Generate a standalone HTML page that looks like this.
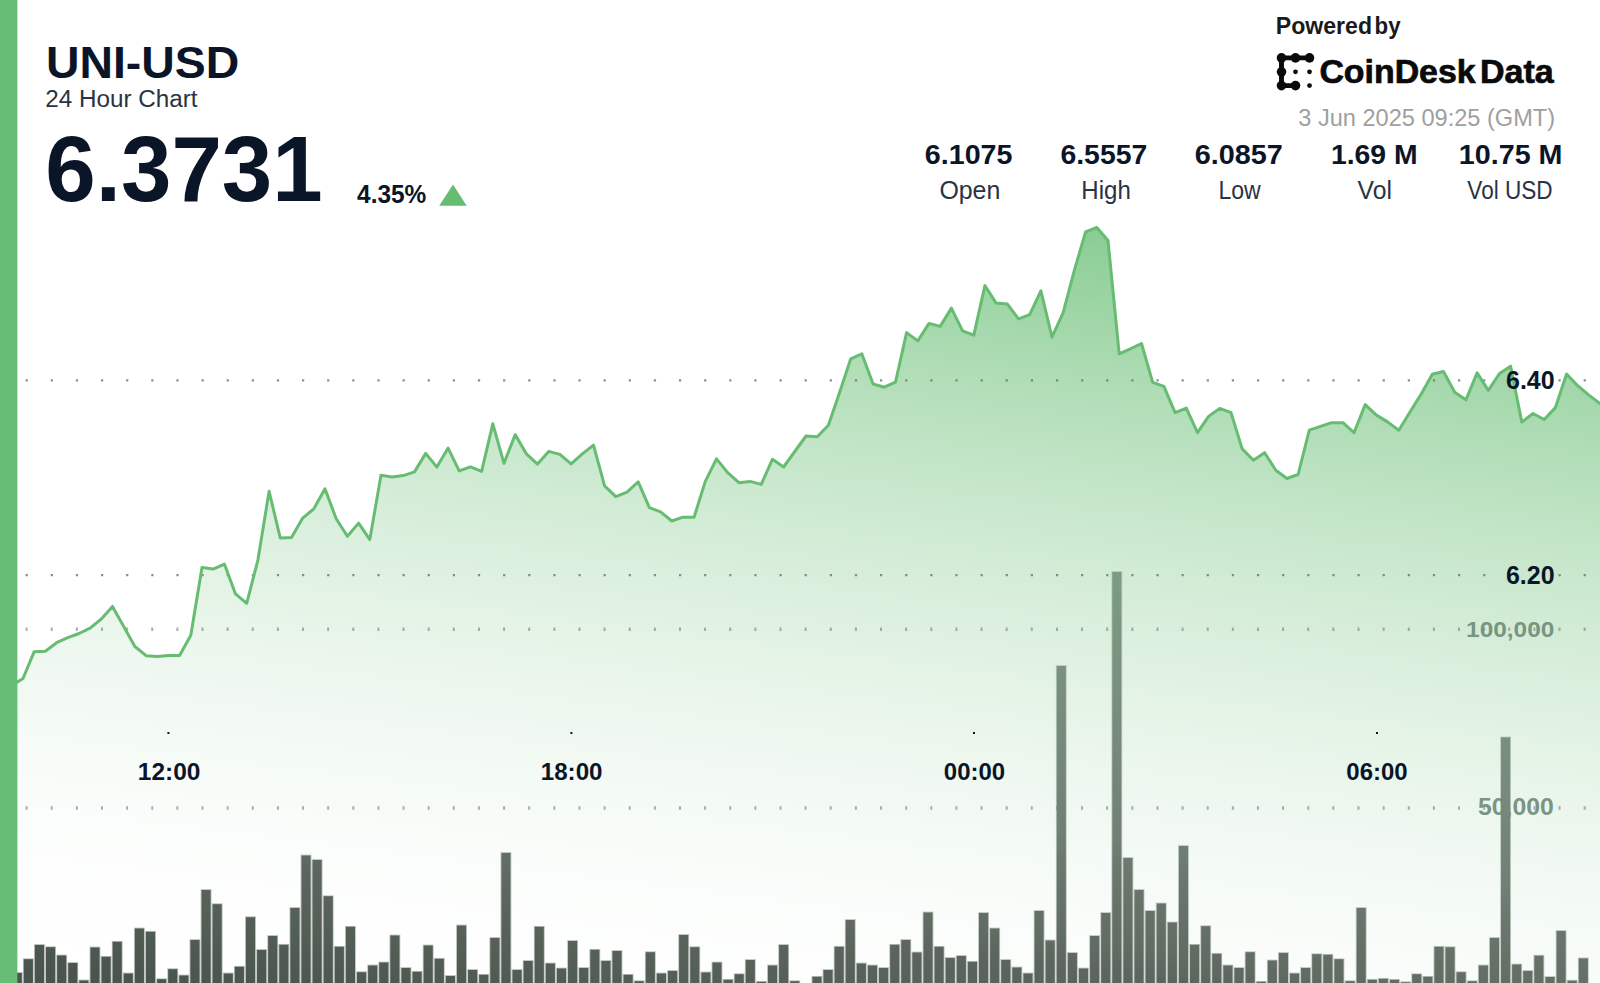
<!DOCTYPE html>
<html><head><meta charset="utf-8"><title>UNI-USD 24 Hour Chart</title>
<style>
html,body{margin:0;padding:0;background:#fff;}
body{width:1600px;height:983px;overflow:hidden;font-family:"Liberation Sans",sans-serif;}
svg{display:block;position:absolute;left:0;top:0;}
text{font-family:"Liberation Sans",sans-serif;}
.b{font-weight:bold;}
</style></head><body>
<svg width="1600" height="983" viewBox="0 0 1600 983">
<defs>
<linearGradient id="ag" gradientUnits="userSpaceOnUse" x1="1600" y1="228" x2="1482.2" y2="1170.3">
<stop offset="0.0000" stop-color="#66bd72" stop-opacity="0.8809"/>
<stop offset="0.0455" stop-color="#66bd72" stop-opacity="0.8027"/>
<stop offset="0.0909" stop-color="#66bd72" stop-opacity="0.7281"/>
<stop offset="0.1364" stop-color="#66bd72" stop-opacity="0.6572"/>
<stop offset="0.1818" stop-color="#66bd72" stop-opacity="0.5899"/>
<stop offset="0.2273" stop-color="#66bd72" stop-opacity="0.5262"/>
<stop offset="0.2727" stop-color="#66bd72" stop-opacity="0.4662"/>
<stop offset="0.3182" stop-color="#66bd72" stop-opacity="0.4098"/>
<stop offset="0.3636" stop-color="#66bd72" stop-opacity="0.3570"/>
<stop offset="0.4091" stop-color="#66bd72" stop-opacity="0.3079"/>
<stop offset="0.4545" stop-color="#66bd72" stop-opacity="0.2624"/>
<stop offset="0.5000" stop-color="#66bd72" stop-opacity="0.2206"/>
<stop offset="0.5455" stop-color="#66bd72" stop-opacity="0.1823"/>
<stop offset="0.5909" stop-color="#66bd72" stop-opacity="0.1477"/>
<stop offset="0.6364" stop-color="#66bd72" stop-opacity="0.1168"/>
<stop offset="0.6818" stop-color="#66bd72" stop-opacity="0.0895"/>
<stop offset="0.7273" stop-color="#66bd72" stop-opacity="0.0658"/>
<stop offset="0.7727" stop-color="#66bd72" stop-opacity="0.0457"/>
<stop offset="0.8182" stop-color="#66bd72" stop-opacity="0.0293"/>
<stop offset="0.8636" stop-color="#66bd72" stop-opacity="0.0165"/>
<stop offset="0.9091" stop-color="#66bd72" stop-opacity="0.0074"/>
<stop offset="0.9545" stop-color="#66bd72" stop-opacity="0.0019"/>
<stop offset="1.0000" stop-color="#66bd72" stop-opacity="0.0000"/>
</linearGradient>
<linearGradient id="bg" gradientUnits="userSpaceOnUse" x1="1600" y1="228" x2="1482.2" y2="1170.3">
<stop offset="0.2842" stop-color="#7ea586"/>
<stop offset="0.4305" stop-color="#7c9b82"/>
<stop offset="0.5768" stop-color="#788c7d"/>
<stop offset="0.7022" stop-color="#708074"/>
<stop offset="0.7315" stop-color="#6b786d"/>
<stop offset="0.8130" stop-color="#616c63"/>
<stop offset="0.8401" stop-color="#5c665e"/>
<stop offset="0.9634" stop-color="#4b574e"/>
<stop offset="1.0000" stop-color="#48544b"/>
</linearGradient>
<clipPath id="cp"><rect x="17" y="0" width="1583" height="983"/></clipPath>
</defs>
<rect x="0" y="0" width="1600" height="983" fill="#fff"/>
<g clip-path="url(#cp)">
<path d="M11.8,685.3 L23.0,678.5 L34.2,651.7 L45.4,651.2 L56.6,642.7 L67.8,637.7 L79.0,633.5 L90.1,628.2 L101.3,619.0 L112.5,606.4 L123.7,626.5 L134.9,646.5 L146.1,655.7 L157.2,656.5 L168.4,655.5 L179.6,655.5 L190.8,635.2 L202.0,567.6 L213.2,569.1 L224.4,564.1 L235.5,593.9 L246.7,603.4 L257.9,560.1 L269.1,491.3 L280.3,538.1 L291.5,537.6 L302.7,518.1 L313.8,508.8 L325.0,488.8 L336.2,518.8 L347.4,536.3 L358.6,523.1 L369.8,539.6 L381.0,475.3 L392.1,477.0 L403.3,475.6 L414.5,471.9 L425.7,453.4 L436.9,467.1 L448.1,448.1 L459.2,470.9 L470.4,466.9 L481.6,471.4 L492.8,423.8 L504.0,463.4 L515.2,434.6 L526.4,453.9 L537.5,464.1 L548.7,451.4 L559.9,454.4 L571.1,463.9 L582.3,453.9 L593.5,445.1 L604.6,485.9 L615.8,496.7 L627.0,492.2 L638.2,481.9 L649.4,507.7 L660.6,511.9 L671.8,521.0 L682.9,517.2 L694.1,517.2 L705.3,481.4 L716.5,458.9 L727.7,472.6 L738.9,482.7 L750.1,481.4 L761.2,484.4 L772.4,459.3 L783.6,467.0 L794.8,451.5 L806.0,436.0 L817.2,436.8 L828.4,425.3 L839.5,392.7 L850.7,358.9 L861.9,353.9 L873.1,384.0 L884.3,387.2 L895.5,382.2 L906.6,332.6 L917.8,340.9 L929.0,323.4 L940.2,326.4 L951.4,308.1 L962.6,330.9 L973.8,335.1 L984.9,285.6 L996.1,303.1 L1007.3,303.9 L1018.5,318.9 L1029.7,314.6 L1040.9,290.8 L1052.0,337.1 L1063.2,312.6 L1074.4,270.1 L1085.6,231.8 L1096.8,227.5 L1108.0,240.5 L1119.2,353.9 L1130.3,348.9 L1141.5,343.5 L1152.7,382.4 L1163.9,386.4 L1175.1,412.6 L1186.3,408.1 L1197.5,432.7 L1208.6,416.4 L1219.8,408.4 L1231.0,412.6 L1242.2,448.9 L1253.4,460.2 L1264.6,452.7 L1275.8,470.2 L1286.9,478.5 L1298.1,474.5 L1309.3,430.2 L1320.5,426.4 L1331.7,422.7 L1342.9,422.7 L1354.0,432.7 L1365.2,404.6 L1376.4,415.1 L1387.6,421.9 L1398.8,430.2 L1410.0,412.0 L1421.2,394.0 L1432.3,374.2 L1443.5,371.5 L1454.7,392.3 L1465.9,399.8 L1477.1,372.9 L1488.3,390.4 L1499.5,373.5 L1510.6,366.2 L1521.8,422.1 L1533.0,413.5 L1544.2,419.5 L1555.4,407.6 L1566.6,374.1 L1577.7,385.7 L1588.9,395.1 L1600.1,403.6 L1600.1,983 L11.8,983 Z" fill="url(#ag)"/>
<g stroke="#6f6f73" stroke-opacity="0.8" stroke-width="2.2" stroke-dasharray="2.2 22.93" fill="none">
<line x1="25.6" x2="1600" y1="380.4" y2="380.4"/>
<line x1="25.6" x2="1600" y1="575.2" y2="575.2"/>
</g>
<g stroke="#8d918e" stroke-opacity="0.75" stroke-width="3.6" stroke-dasharray="2 23.13" fill="none">
<line x1="25.6" x2="1600" y1="629.3" y2="629.3"/>
<line x1="25.6" x2="1600" y1="808" y2="808"/>
</g>
<path d="M11.8,685.3 L23.0,678.5 L34.2,651.7 L45.4,651.2 L56.6,642.7 L67.8,637.7 L79.0,633.5 L90.1,628.2 L101.3,619.0 L112.5,606.4 L123.7,626.5 L134.9,646.5 L146.1,655.7 L157.2,656.5 L168.4,655.5 L179.6,655.5 L190.8,635.2 L202.0,567.6 L213.2,569.1 L224.4,564.1 L235.5,593.9 L246.7,603.4 L257.9,560.1 L269.1,491.3 L280.3,538.1 L291.5,537.6 L302.7,518.1 L313.8,508.8 L325.0,488.8 L336.2,518.8 L347.4,536.3 L358.6,523.1 L369.8,539.6 L381.0,475.3 L392.1,477.0 L403.3,475.6 L414.5,471.9 L425.7,453.4 L436.9,467.1 L448.1,448.1 L459.2,470.9 L470.4,466.9 L481.6,471.4 L492.8,423.8 L504.0,463.4 L515.2,434.6 L526.4,453.9 L537.5,464.1 L548.7,451.4 L559.9,454.4 L571.1,463.9 L582.3,453.9 L593.5,445.1 L604.6,485.9 L615.8,496.7 L627.0,492.2 L638.2,481.9 L649.4,507.7 L660.6,511.9 L671.8,521.0 L682.9,517.2 L694.1,517.2 L705.3,481.4 L716.5,458.9 L727.7,472.6 L738.9,482.7 L750.1,481.4 L761.2,484.4 L772.4,459.3 L783.6,467.0 L794.8,451.5 L806.0,436.0 L817.2,436.8 L828.4,425.3 L839.5,392.7 L850.7,358.9 L861.9,353.9 L873.1,384.0 L884.3,387.2 L895.5,382.2 L906.6,332.6 L917.8,340.9 L929.0,323.4 L940.2,326.4 L951.4,308.1 L962.6,330.9 L973.8,335.1 L984.9,285.6 L996.1,303.1 L1007.3,303.9 L1018.5,318.9 L1029.7,314.6 L1040.9,290.8 L1052.0,337.1 L1063.2,312.6 L1074.4,270.1 L1085.6,231.8 L1096.8,227.5 L1108.0,240.5 L1119.2,353.9 L1130.3,348.9 L1141.5,343.5 L1152.7,382.4 L1163.9,386.4 L1175.1,412.6 L1186.3,408.1 L1197.5,432.7 L1208.6,416.4 L1219.8,408.4 L1231.0,412.6 L1242.2,448.9 L1253.4,460.2 L1264.6,452.7 L1275.8,470.2 L1286.9,478.5 L1298.1,474.5 L1309.3,430.2 L1320.5,426.4 L1331.7,422.7 L1342.9,422.7 L1354.0,432.7 L1365.2,404.6 L1376.4,415.1 L1387.6,421.9 L1398.8,430.2 L1410.0,412.0 L1421.2,394.0 L1432.3,374.2 L1443.5,371.5 L1454.7,392.3 L1465.9,399.8 L1477.1,372.9 L1488.3,390.4 L1499.5,373.5 L1510.6,366.2 L1521.8,422.1 L1533.0,413.5 L1544.2,419.5 L1555.4,407.6 L1566.6,374.1 L1577.7,385.7 L1588.9,395.1 L1600.1,403.6" fill="none" stroke="#66bd72" stroke-width="3" stroke-linejoin="round" stroke-linecap="round"/>
<text x="1466.12" y="636.82" font-size="22.74" font-weight="bold" fill="#6c8976" textLength="88.18" lengthAdjust="spacingAndGlyphs" fill-opacity="0.9">100,000</text>
<text x="1477.91" y="815.08" font-size="23.81" font-weight="bold" fill="#6c8674" textLength="75.87" lengthAdjust="spacingAndGlyphs" fill-opacity="0.9">50,000</text>
<g fill="url(#bg)" stroke="url(#bg)" stroke-opacity="0.4" stroke-width="1.7">
<rect x="12.69" y="973.0" width="9.1" height="12.0"/>
<rect x="23.80" y="959.2" width="9.1" height="25.8"/>
<rect x="34.91" y="945.0" width="9.1" height="40.0"/>
<rect x="46.01" y="947.2" width="9.1" height="37.8"/>
<rect x="57.12" y="955.5" width="9.1" height="29.5"/>
<rect x="68.23" y="963.0" width="9.1" height="22.0"/>
<rect x="79.33" y="980.5" width="9.1" height="4.5"/>
<rect x="90.44" y="947.5" width="9.1" height="37.5"/>
<rect x="101.55" y="956.8" width="9.1" height="28.2"/>
<rect x="112.66" y="941.8" width="9.1" height="43.2"/>
<rect x="123.76" y="973.5" width="9.1" height="11.5"/>
<rect x="134.87" y="928.5" width="9.1" height="56.5"/>
<rect x="145.98" y="931.8" width="9.1" height="53.2"/>
<rect x="157.08" y="979.2" width="9.1" height="5.8"/>
<rect x="168.19" y="969.2" width="9.1" height="15.8"/>
<rect x="179.30" y="975.5" width="9.1" height="9.5"/>
<rect x="190.41" y="940.0" width="9.1" height="45.0"/>
<rect x="201.51" y="890.0" width="9.1" height="95.0"/>
<rect x="212.62" y="904.2" width="9.1" height="80.8"/>
<rect x="223.73" y="973.5" width="9.1" height="11.5"/>
<rect x="234.83" y="966.8" width="9.1" height="18.2"/>
<rect x="245.94" y="917.2" width="9.1" height="67.8"/>
<rect x="257.05" y="950.0" width="9.1" height="35.0"/>
<rect x="268.15" y="936.0" width="9.1" height="49.0"/>
<rect x="279.26" y="944.8" width="9.1" height="40.2"/>
<rect x="290.37" y="908.0" width="9.1" height="77.0"/>
<rect x="301.47" y="855.5" width="9.1" height="129.5"/>
<rect x="312.58" y="860.0" width="9.1" height="125.0"/>
<rect x="323.69" y="896.2" width="9.1" height="88.8"/>
<rect x="334.80" y="946.8" width="9.1" height="38.2"/>
<rect x="345.90" y="926.8" width="9.1" height="58.2"/>
<rect x="357.01" y="972.2" width="9.1" height="12.8"/>
<rect x="368.12" y="965.5" width="9.1" height="19.5"/>
<rect x="379.22" y="962.5" width="9.1" height="22.5"/>
<rect x="390.33" y="935.5" width="9.1" height="49.5"/>
<rect x="401.44" y="968.0" width="9.1" height="17.0"/>
<rect x="412.55" y="971.8" width="9.1" height="13.2"/>
<rect x="423.65" y="945.5" width="9.1" height="39.5"/>
<rect x="434.76" y="958.8" width="9.1" height="26.2"/>
<rect x="445.87" y="976.0" width="9.1" height="9.0"/>
<rect x="456.97" y="925.5" width="9.1" height="59.5"/>
<rect x="468.08" y="970.0" width="9.1" height="15.0"/>
<rect x="479.19" y="974.8" width="9.1" height="10.2"/>
<rect x="490.29" y="938.0" width="9.1" height="47.0"/>
<rect x="501.40" y="853.0" width="9.1" height="132.0"/>
<rect x="512.51" y="970.0" width="9.1" height="15.0"/>
<rect x="523.61" y="961.0" width="9.1" height="24.0"/>
<rect x="534.72" y="926.8" width="9.1" height="58.2"/>
<rect x="545.83" y="963.5" width="9.1" height="21.5"/>
<rect x="556.94" y="968.5" width="9.1" height="16.5"/>
<rect x="568.04" y="941.0" width="9.1" height="44.0"/>
<rect x="579.15" y="968.0" width="9.1" height="17.0"/>
<rect x="590.26" y="949.8" width="9.1" height="35.2"/>
<rect x="601.36" y="961.0" width="9.1" height="24.0"/>
<rect x="612.47" y="951.0" width="9.1" height="34.0"/>
<rect x="623.58" y="974.8" width="9.1" height="10.2"/>
<rect x="634.68" y="981.2" width="9.1" height="3.8"/>
<rect x="645.79" y="952.2" width="9.1" height="32.8"/>
<rect x="656.90" y="973.5" width="9.1" height="11.5"/>
<rect x="668.01" y="971.0" width="9.1" height="14.0"/>
<rect x="679.11" y="935.0" width="9.1" height="50.0"/>
<rect x="690.22" y="947.2" width="9.1" height="37.8"/>
<rect x="701.33" y="972.5" width="9.1" height="12.5"/>
<rect x="712.43" y="962.5" width="9.1" height="22.5"/>
<rect x="723.54" y="979.8" width="9.1" height="5.2"/>
<rect x="734.65" y="974.2" width="9.1" height="10.8"/>
<rect x="745.75" y="960.0" width="9.1" height="25.0"/>
<rect x="756.86" y="981.8" width="9.1" height="3.2"/>
<rect x="767.97" y="965.5" width="9.1" height="19.5"/>
<rect x="779.08" y="945.0" width="9.1" height="40.0"/>
<rect x="790.18" y="981.2" width="9.1" height="3.8"/>
<rect x="812.40" y="976.8" width="9.1" height="8.2"/>
<rect x="823.50" y="970.0" width="9.1" height="15.0"/>
<rect x="834.61" y="946.8" width="9.1" height="38.2"/>
<rect x="845.72" y="920.0" width="9.1" height="65.0"/>
<rect x="856.82" y="963.5" width="9.1" height="21.5"/>
<rect x="867.93" y="965.5" width="9.1" height="19.5"/>
<rect x="879.04" y="968.0" width="9.1" height="17.0"/>
<rect x="890.15" y="944.8" width="9.1" height="40.2"/>
<rect x="901.25" y="940.0" width="9.1" height="45.0"/>
<rect x="912.36" y="952.5" width="9.1" height="32.5"/>
<rect x="923.47" y="912.5" width="9.1" height="72.5"/>
<rect x="934.57" y="946.8" width="9.1" height="38.2"/>
<rect x="945.68" y="958.0" width="9.1" height="27.0"/>
<rect x="956.79" y="956.0" width="9.1" height="29.0"/>
<rect x="967.89" y="961.8" width="9.1" height="23.2"/>
<rect x="979.00" y="913.0" width="9.1" height="72.0"/>
<rect x="990.11" y="928.5" width="9.1" height="56.5"/>
<rect x="1001.22" y="960.0" width="9.1" height="25.0"/>
<rect x="1012.32" y="967.5" width="9.1" height="17.5"/>
<rect x="1023.43" y="973.5" width="9.1" height="11.5"/>
<rect x="1034.54" y="911.0" width="9.1" height="74.0"/>
<rect x="1045.64" y="940.5" width="9.1" height="44.5"/>
<rect x="1056.75" y="666.0" width="9.1" height="319.0"/>
<rect x="1067.86" y="953.0" width="9.1" height="32.0"/>
<rect x="1078.96" y="968.5" width="9.1" height="16.5"/>
<rect x="1090.07" y="936.0" width="9.1" height="49.0"/>
<rect x="1101.18" y="913.0" width="9.1" height="72.0"/>
<rect x="1112.29" y="572.0" width="9.1" height="413.0"/>
<rect x="1123.39" y="858.0" width="9.1" height="127.0"/>
<rect x="1134.50" y="890.0" width="9.1" height="95.0"/>
<rect x="1145.61" y="911.0" width="9.1" height="74.0"/>
<rect x="1156.71" y="903.5" width="9.1" height="81.5"/>
<rect x="1167.82" y="922.5" width="9.1" height="62.5"/>
<rect x="1178.93" y="846.0" width="9.1" height="139.0"/>
<rect x="1190.03" y="944.8" width="9.1" height="40.2"/>
<rect x="1201.14" y="926.2" width="9.1" height="58.8"/>
<rect x="1212.25" y="953.8" width="9.1" height="31.2"/>
<rect x="1223.36" y="965.5" width="9.1" height="19.5"/>
<rect x="1234.46" y="968.0" width="9.1" height="17.0"/>
<rect x="1245.57" y="952.2" width="9.1" height="32.8"/>
<rect x="1256.68" y="981.8" width="9.1" height="3.2"/>
<rect x="1267.78" y="960.5" width="9.1" height="24.5"/>
<rect x="1278.89" y="953.0" width="9.1" height="32.0"/>
<rect x="1290.00" y="973.5" width="9.1" height="11.5"/>
<rect x="1301.10" y="968.0" width="9.1" height="17.0"/>
<rect x="1312.21" y="954.2" width="9.1" height="30.8"/>
<rect x="1323.32" y="954.8" width="9.1" height="30.2"/>
<rect x="1334.43" y="959.2" width="9.1" height="25.8"/>
<rect x="1345.53" y="981.2" width="9.1" height="3.8"/>
<rect x="1356.64" y="908.0" width="9.1" height="77.0"/>
<rect x="1367.75" y="979.8" width="9.1" height="5.2"/>
<rect x="1378.85" y="978.8" width="9.1" height="6.2"/>
<rect x="1389.96" y="979.8" width="9.1" height="5.2"/>
<rect x="1401.07" y="982.2" width="9.1" height="2.8"/>
<rect x="1412.17" y="974.2" width="9.1" height="10.8"/>
<rect x="1423.28" y="976.8" width="9.1" height="8.2"/>
<rect x="1434.39" y="946.8" width="9.1" height="38.2"/>
<rect x="1445.50" y="947.2" width="9.1" height="37.8"/>
<rect x="1456.60" y="972.2" width="9.1" height="12.8"/>
<rect x="1467.71" y="981.2" width="9.1" height="3.8"/>
<rect x="1478.82" y="965.5" width="9.1" height="19.5"/>
<rect x="1489.92" y="938.0" width="9.1" height="47.0"/>
<rect x="1501.03" y="737.4" width="9.1" height="247.6"/>
<rect x="1512.14" y="964.5" width="9.1" height="20.5"/>
<rect x="1523.24" y="971.0" width="9.1" height="14.0"/>
<rect x="1534.35" y="955.7" width="9.1" height="29.3"/>
<rect x="1545.46" y="977.0" width="9.1" height="8.0"/>
<rect x="1556.57" y="931.0" width="9.1" height="54.0"/>
<rect x="1567.67" y="980.7" width="9.1" height="4.3"/>
<rect x="1578.78" y="958.4" width="9.1" height="26.6"/>
</g>
<text x="1505.99" y="389.40" font-size="26.00" font-weight="bold" fill="#0b1528" textLength="48.62" lengthAdjust="spacingAndGlyphs">6.40</text>
<text x="1505.98" y="584.00" font-size="26.00" font-weight="bold" fill="#0b1528" textLength="48.62" lengthAdjust="spacingAndGlyphs">6.20</text>
<g fill="#0b1528">
<rect x="167.4" y="732" width="2" height="2"/><rect x="570.4" y="732" width="2" height="2"/>
<rect x="973" y="732" width="2" height="2"/><rect x="1376" y="732" width="2" height="2"/>
</g>
<text x="137.81" y="779.60" font-size="24.50" font-weight="bold" fill="#0b1528" textLength="62.59" lengthAdjust="spacingAndGlyphs">12:00</text>
<text x="540.78" y="779.60" font-size="24.50" font-weight="bold" fill="#0b1528" textLength="61.76" lengthAdjust="spacingAndGlyphs">18:00</text>
<text x="943.83" y="779.60" font-size="24.50" font-weight="bold" fill="#0b1528" textLength="61.27" lengthAdjust="spacingAndGlyphs">00:00</text>
<text x="1346.32" y="779.60" font-size="24.50" font-weight="bold" fill="#0b1528" textLength="61.27" lengthAdjust="spacingAndGlyphs">06:00</text>
</g>
<rect x="0" y="0" width="17.4" height="983" fill="#66be76"/>

<!-- header left -->
<text x="45.93" y="77.60" font-size="45.20" font-weight="bold" fill="#0b1528" textLength="193.31" lengthAdjust="spacingAndGlyphs">UNI-USD</text>
<text x="45.32" y="107.22" font-size="23.68" fill="#2a3344" textLength="152.21" lengthAdjust="spacingAndGlyphs">24 Hour Chart</text>
<text x="45.32" y="200.68" font-size="92.52" font-weight="bold" fill="#0b1528" textLength="277.37" lengthAdjust="spacingAndGlyphs">6.3731</text>
<text x="357.07" y="202.83" font-size="26.59" font-weight="bold" fill="#0b1528" textLength="69.18" lengthAdjust="spacingAndGlyphs">4.35%</text>
<path d="M439.2,205.8 L466.7,205.8 L453,184.5 Z" fill="#66bd72"/>

<!-- header right -->
<text x="1275.79" y="34.00" font-size="23.30" font-weight="bold" fill="#1a1a1a" textLength="96.21" lengthAdjust="spacingAndGlyphs">Powered</text>
<text x="1374.56" y="34.00" font-size="23.30" font-weight="bold" fill="#1a1a1a" textLength="26.01" lengthAdjust="spacingAndGlyphs">by</text>
<g fill="#0a0a0a" stroke="#0a0a0a">
<path d="M1309.5,57.9 H1281.5 V85.6 H1295.5" fill="none" stroke-width="4.9" stroke-linejoin="round" stroke-linecap="round"/>
<g stroke="none">
<circle cx="1281.5" cy="57.9" r="4.8"/><circle cx="1295.5" cy="57.9" r="4.8"/><circle cx="1309.5" cy="57.9" r="4.8"/>
<circle cx="1281.5" cy="71.8" r="4.8"/><circle cx="1281.5" cy="85.6" r="4.8"/><circle cx="1295.5" cy="85.6" r="4.8"/>
<circle cx="1295.5" cy="71.8" r="2.4"/><circle cx="1309.5" cy="71.8" r="2.4"/><circle cx="1309.5" cy="85.6" r="2.4"/>
</g></g>
<text x="1319.41" y="83.00" font-size="33.50" font-weight="bold" fill="#0a0a0a" textLength="156.23" lengthAdjust="spacingAndGlyphs" stroke="#0a0a0a" stroke-width="0.7">CoinDesk</text>
<text x="1480.09" y="83.00" font-size="33.50" font-weight="bold" fill="#0a0a0a" textLength="73.66" lengthAdjust="spacingAndGlyphs" stroke="#0a0a0a" stroke-width="0.7">Data</text>
<text x="1298.23" y="125.80" font-size="24.60" fill="#a0a0a0" textLength="256.89" lengthAdjust="spacingAndGlyphs">3 Jun 2025 09:25 (GMT)</text>

<!-- stats -->
<text x="924.83" y="164.40" font-size="27.00" font-weight="bold" fill="#0b1528" textLength="87.66" lengthAdjust="spacingAndGlyphs">6.1075</text>
<text x="1060.44" y="164.40" font-size="27.00" font-weight="bold" fill="#0b1528" textLength="86.83" lengthAdjust="spacingAndGlyphs">6.5557</text>
<text x="1194.74" y="164.40" font-size="27.00" font-weight="bold" fill="#0b1528" textLength="88.18" lengthAdjust="spacingAndGlyphs">6.0857</text>
<text x="1330.94" y="164.40" font-size="27.00" font-weight="bold" fill="#0b1528" textLength="86.55" lengthAdjust="spacingAndGlyphs">1.69 M</text>
<text x="1458.89" y="164.40" font-size="27.00" font-weight="bold" fill="#0b1528" textLength="103.63" lengthAdjust="spacingAndGlyphs">10.75 M</text>
<text x="939.38" y="199.40" font-size="25.00" fill="#2a3344" textLength="60.94" lengthAdjust="spacingAndGlyphs">Open</text>
<text x="1081.36" y="199.40" font-size="25.00" fill="#2a3344" textLength="49.42" lengthAdjust="spacingAndGlyphs">High</text>
<text x="1218.41" y="199.40" font-size="25.00" fill="#2a3344" textLength="42.29" lengthAdjust="spacingAndGlyphs">Low</text>
<text x="1357.55" y="199.40" font-size="25.00" fill="#2a3344" textLength="34.36" lengthAdjust="spacingAndGlyphs">Vol</text>
<text x="1467.36" y="199.40" font-size="25.00" fill="#2a3344" textLength="85.28" lengthAdjust="spacingAndGlyphs">Vol USD</text>
</svg>
</body></html>
